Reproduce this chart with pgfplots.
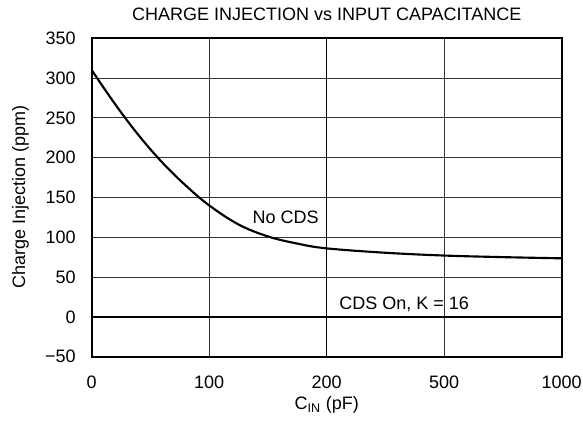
\documentclass[border=0pt]{standalone}
\usepackage{fontspec}
\setmainfont{Liberation Sans}
\usepackage{pgfplots}
\pgfplotsset{compat=1.18}
\newcommand{\fs}{\fontsize{13.5}{16}\selectfont}
\begin{document}
\begin{tikzpicture}
\useasboundingbox (-68.8pt,-50.5pt) rectangle (368.5pt,267.5pt);
\begin{axis}[
  at={(0,0)}, anchor=south west,
  scale only axis, width=352.5pt, height=238.8pt,
  xmin=0, xmax=4, ymin=-50, ymax=350,
  xtick={0,1,2,3,4}, xticklabels={0,100,200,500,1000},
  ytick={-50,0,50,100,150,200,250,300,350},
  yticklabels={−50,0,50,100,150,200,250,300,350},
  major tick length=0pt,
  grid=major,
  grid style={line width=0.6pt, black!80},
  axis line style={line width=1.5pt, black},
  extra x ticks={2}, extra x tick labels={},
  extra x tick style={grid style={line width=1.1pt, black}},
  tick label style={font=\fs},
  xticklabel style={anchor=base, yshift=-23.7pt},
  yticklabel style={anchor=east, xshift=-8.5pt},
  title={CHARGE INJECTION vs INPUT CAPACITANCE},
  title style={font=\fs, at={(axis description cs:0.5,1.0314)}, anchor=base},
  xlabel={C\textsubscript{IN} (pF)},
  xlabel style={font=\fs, at={(axis description cs:0.5,-0.1675)}, anchor=base},
  ylabel={Charge Injection (ppm)},
  ylabel style={font=\fs, at={(axis description cs:-0.1418,0.5)}, anchor=base},
]
\addplot[line width=1.6pt, black, smooth, tension=0.6] coordinates {
  (0,310) (0.2,267) (0.4,228) (0.6,194) (0.8,165)
  (1.0,140) (1.25,116) (1.5,101)
  (1.75,92) (2.0,86) (2.5,80.5) (3.0,77) (3.5,75) (4.0,73.5)
};
\addplot[line width=1.6pt, black] coordinates {(0,0) (4,0)};
\node[font=\fs] at (axis cs:1.65,125) {No CDS};
\node[font=\fs] at (axis cs:2.66,16) {CDS On, K = 16};
\end{axis}
\end{tikzpicture}
\end{document}
